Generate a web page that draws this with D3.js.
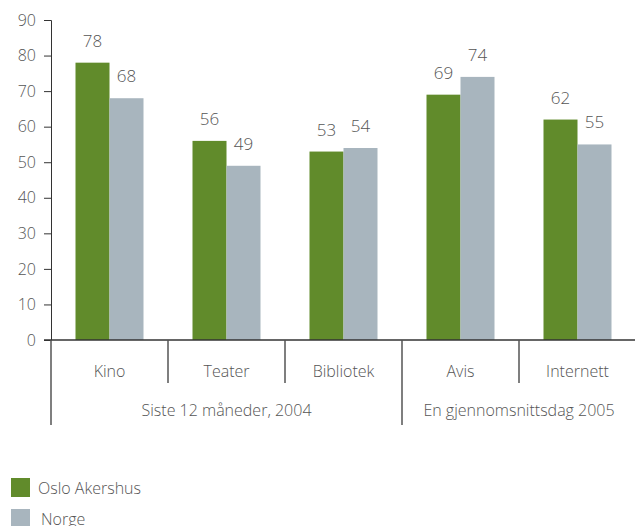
<!DOCTYPE html>
<html><head><meta charset="utf-8">
<script src="https://cdn.jsdelivr.net/npm/d3@7"></script>
<style>
body{margin:0;background:#fff;}
text{font-family:"Open Sans",sans-serif;font-weight:300;fill:#555;}
</style></head>
<body>
<svg id="c" width="635" height="526"></svg>
<script>
const categories = ["Kino","Teater","Bibliotek","Avis","Internett"];
const osloAkershus = [78,56,53,69,62];
const norge = [68,49,54,74,55];
const seriesNames = ["Oslo Akershus","Norge"];
const groups = [
  {label:"Siste 12 måneder, 2004", from:0, to:2},
  {label:"En gjennomsnittsdag 2005", from:3, to:4}
];
const yTicks = [0,10,20,30,40,50,60,70,80,90];
const colors = ["#618b2b","#a8b5be"];

const svg = d3.select("#c");
const x0 = 51, x1 = 636, yTop = 20, yBottom = 340;
const x = d3.scaleBand().domain(categories).range([x0,x1]).paddingInner(0).paddingOuter(0);
const y = d3.scaleLinear().domain([0,90]).range([yBottom,yTop]);
const inner = d3.scaleBand().domain(seriesNames).range([0,68]);
const barOffset = (x.bandwidth()-68)/2;

// y axis
const yAxis = d3.axisLeft(y).tickValues(yTicks).tickSize(7).tickPadding(8);
const gy = svg.append("g").attr("transform",`translate(${x0},0)`).call(yAxis);
gy.select(".domain").attr("stroke","#333");
gy.selectAll(".tick line").attr("stroke","#333");
gy.selectAll(".tick text").style("font-size","16px").style("font-family","'Open Sans',sans-serif").style("font-weight","300").attr("fill","#555");

// bars
const data = categories.map((c,i)=>({cat:c, vals:[osloAkershus[i], norge[i]]}));
const g = svg.append("g");
data.forEach(d=>{
  d.vals.forEach((v,j)=>{
    const bx = x(d.cat)+barOffset+inner(seriesNames[j]);
    g.append("rect").attr("x",bx).attr("y",y(v)).attr("width",inner.bandwidth()).attr("height",y(0)-y(v)).attr("fill",colors[j]);
    g.append("text").attr("x",bx+inner.bandwidth()/2).attr("y",y(v)-16).attr("text-anchor","middle").style("font-size","17px").text(v);
  });
});

// x axis line
svg.append("line").attr("x1",x0-7).attr("x2",635).attr("y1",yBottom).attr("y2",yBottom).attr("stroke","#333").attr("stroke-width",1.5);

// category labels and dividers
categories.forEach((c,i)=>{
  svg.append("text").attr("x",x(c)+x.bandwidth()/2).attr("y",377).attr("text-anchor","middle").style("font-size","16px").text(c);
});
const groupStarts = new Set(groups.map(gp=>gp.from));
categories.forEach((c,i)=>{
  const isGroup = groupStarts.has(i);
  svg.append("line").attr("x1",x(c)).attr("x2",x(c)).attr("y1",yBottom).attr("y2",isGroup?425:383).attr("stroke","#555").attr("stroke-width",1.5);
});
groups.forEach(gp=>{
  const a = x(categories[gp.from]), b = x(categories[gp.to])+x.bandwidth();
  svg.append("text").attr("x",(a+b)/2).attr("y",416).attr("text-anchor","middle").style("font-size","16px").text(gp.label);
});

// legend
seriesNames.forEach((s,i)=>{
  const ly = 478 + i*31;
  svg.append("rect").attr("x",11).attr("y",ly).attr("width",19).attr("height",19).attr("fill",colors[i]);
  svg.append("text").attr("x",i===0?38:41).attr("y",ly+16).style("font-size","16px").text(s);
});
</script>
</body></html>
